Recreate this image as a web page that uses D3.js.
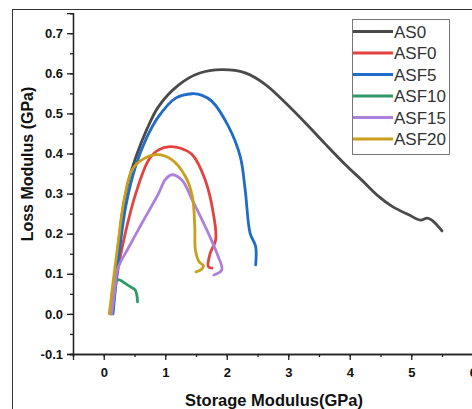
<!DOCTYPE html>
<html>
<head>
<meta charset="utf-8">
<script src="https://cdn.jsdelivr.net/npm/d3@7"></script>
<style>
  body { margin: 0; background: #fff; }
  svg { display: block; font-family: Arial, "Liberation Sans", sans-serif; }
</style>
</head>
<body>
<svg></svg>
<script>
var width = 472;
var height = 409;

// series names and colours
const names = ["AS0", "ASF0", "ASF5", "ASF10", "ASF15", "ASF20"];
const colors = ["#4a4a4a", "#e2433f", "#1f6cc9", "#2f9a68", "#ad80dc", "#c9a01c"];

// storage modulus (x) / loss modulus (y)
const as0X = [0.12, 0.2, 0.3, 0.4, 0.52, 0.7, 0.89, 1.22, 1.55, 1.92, 2.3, 2.63, 2.95, 3.28, 3.6, 3.93, 4.2, 4.47, 4.69, 4.96, 5.15, 5.26, 5.34, 5.5];
const as0Y = [0.0, 0.12, 0.25, 0.33, 0.39, 0.46, 0.517, 0.571, 0.6, 0.609, 0.601, 0.572, 0.527, 0.476, 0.424, 0.372, 0.333, 0.293, 0.268, 0.247, 0.234, 0.239, 0.233, 0.207];

const asf0X = [0.14, 0.22, 0.35, 0.52, 0.73, 0.89, 1.08, 1.25, 1.44, 1.65, 1.79, 1.82, 1.73, 1.7, 1.76];
const asf0Y = [0.0, 0.1, 0.201, 0.3, 0.384, 0.409, 0.417, 0.413, 0.397, 0.334, 0.243, 0.185, 0.151, 0.118, 0.114];

const asf5X = [0.15, 0.25, 0.36, 0.515, 0.7, 0.89, 1.17, 1.44, 1.6, 1.76, 2.03, 2.22, 2.3, 2.38, 2.47, 2.47];
const asf5Y = [0.0, 0.15, 0.27, 0.367, 0.44, 0.492, 0.538, 0.549, 0.545, 0.53, 0.467, 0.392, 0.309, 0.201, 0.168, 0.122];

const asf10X = [0.12, 0.17, 0.22, 0.28, 0.35, 0.45, 0.51, 0.54, 0.55];
const asf10Y = [0.0, 0.06, 0.085, 0.083, 0.076, 0.066, 0.06, 0.045, 0.03];

const asf15X = [0.13, 0.18, 0.22, 0.42, 0.62, 0.89, 1.0, 1.11, 1.27, 1.44, 1.65, 1.84, 1.92, 1.79];
const asf15Y = [0.0, 0.06, 0.11, 0.17, 0.226, 0.3, 0.335, 0.347, 0.334, 0.284, 0.218, 0.151, 0.11, 0.097];

const asf20X = [0.09, 0.16, 0.24, 0.33, 0.46, 0.62, 0.87, 1.11, 1.33, 1.44, 1.48, 1.49, 1.55, 1.62, 1.58, 1.5];
const asf20Y = [0.0, 0.09, 0.185, 0.284, 0.359, 0.384, 0.397, 0.384, 0.342, 0.293, 0.218, 0.16, 0.13, 0.12, 0.11, 0.105];

const xTicks = [0, 1, 2, 3, 4, 5, 6];
const yTicks = [-0.1, 0.0, 0.1, 0.2, 0.3, 0.4, 0.5, 0.6, 0.7];

const seriesX = [as0X, asf0X, asf5X, asf10X, asf15X, asf20X];
const seriesY = [as0Y, asf0Y, asf5Y, asf10Y, asf15Y, asf20Y];

var svg = d3.select("svg").attr("width", width).attr("height", height);

// outer frame
svg.append("rect")
    .attr("x", 12.5).attr("y", 9.5)
    .attr("width", 500).attr("height", 500)
    .attr("fill", "none").attr("stroke", "#333").attr("stroke-width", 1);

let xScale = d3.scaleLinear().domain([-0.5, 6.5]).range([73, 73 + 7 * 61.5]);
let yScale = d3.scaleLinear().domain([-0.1, 0.75]).range([354, 354 - 0.85 * 401]);

// minor ticks
let xMinor = d3.axisBottom(xScale).tickValues(d3.range(-0.5, 6.51, 0.5)).tickSize(3).tickFormat("");
let yMinor = d3.axisLeft(yScale).tickValues(d3.range(-0.1, 0.751, 0.05)).tickSize(3).tickFormat("");

svg.append("g").attr("transform", "translate(0,354)").call(xMinor);
svg.append("g").attr("transform", "translate(73,0)").call(yMinor);

let fmtY = d => d3.format(".1f")(d).replace("−", "-");

let xAxis = d3.axisBottom(xScale).tickValues(xTicks).tickSize(6).tickPadding(8).tickFormat(d3.format("d"));
let yAxis = d3.axisLeft(yScale).tickValues(yTicks).tickSize(6).tickPadding(4).tickFormat(fmtY);

let gx = svg.append("g").attr("transform", "translate(0,354)").call(xAxis);
let gy = svg.append("g").attr("transform", "translate(73,0)").call(yAxis);

svg.selectAll(".domain, .tick line").attr("stroke", "#222").attr("stroke-width", 1.3);
gx.selectAll("text").style("font-size", "13px").style("font-weight", "bold").attr("fill", "#111");
gy.selectAll("text").style("font-size", "13px").style("font-weight", "bold").attr("fill", "#111");

// axis titles
svg.append("text")
    .attr("text-anchor", "middle")
    .attr("transform", "translate(274,406)")
    .style("font-size", "16.5px").style("font-weight", "bold").attr("fill", "#111")
    .text("Storage Modulus(GPa)");

svg.append("text")
    .attr("text-anchor", "middle")
    .attr("transform", "translate(33,164) rotate(-90)")
    .style("font-size", "16px").style("font-weight", "bold").attr("fill", "#111")
    .text("Loss Modulus (GPa)");

// curves
let line = d3.line()
    .x(d => xScale(d[0]))
    .y(d => yScale(d[1]))
    .curve(d3.curveCatmullRom.alpha(0.5));

names.forEach((n, i) => {
    let pts = seriesX[i].map((x, j) => [x, seriesY[i][j]]);
    svg.append("path")
        .datum(pts)
        .attr("d", line)
        .attr("fill", "none")
        .attr("stroke", colors[i])
        .attr("stroke-width", 2.8)
        .attr("stroke-linecap", "round")
        .attr("stroke-linejoin", "round");
});

// legend
let legend = svg.append("g");
legend.append("rect")
    .attr("x", 352.5).attr("y", 19.5)
    .attr("width", 97).attr("height", 135)
    .attr("fill", "#fff").attr("stroke", "#777").attr("stroke-width", 1);

names.forEach((n, i) => {
    let cy = 31.5 + i * 21.5;
    legend.append("line")
        .attr("x1", 353).attr("x2", 393)
        .attr("y1", cy).attr("y2", cy)
        .attr("stroke", colors[i]).attr("stroke-width", 3);
    legend.append("text")
        .attr("x", 394).attr("y", cy + 6)
        .style("font-size", "17px").attr("fill", "#333")
        .text(n);
});
</script>
</body>
</html>
